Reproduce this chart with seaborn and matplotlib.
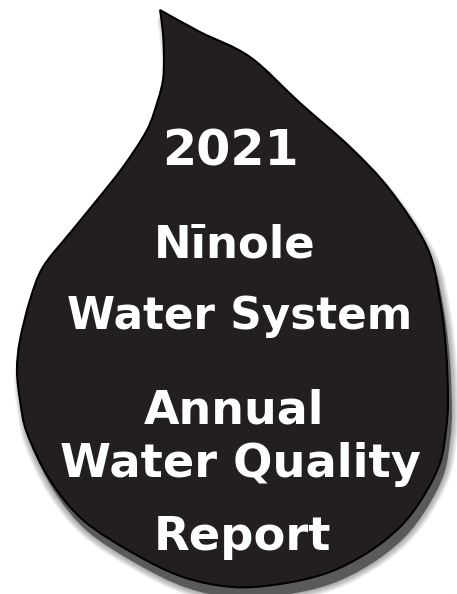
import numpy as np
import matplotlib
matplotlib.use("Agg")
import matplotlib.pyplot as plt
import seaborn as sns
from matplotlib.path import Path
from matplotlib.patches import PathPatch

# outline of the drop, clockwise from the tip (pixel coords, y down)
drop_x = [160, 200, 250, 300, 350, 390, 427, 440, 446, 448, 446, 440, 423, 400, 367, 327, 280,
          233, 183, 133, 83, 50, 27, 20, 17, 20, 30, 43, 70, 97, 123, 147, 158, 163, 164, 163, 160]
drop_y = [10, 32, 57, 103, 147, 190, 247, 300, 350, 400, 430, 463, 497, 527, 553, 573, 584,
          587, 577, 553, 520, 480, 433, 400, 370, 340, 300, 267, 233, 200, 167, 130, 100, 80, 60, 33, 10]

# text lines
lines = ["2021", "N\u012bnole", "Water System", "Annual", "Water Quality", "Report"]
line_x = [230, 235, 240, 234, 240, 243]
line_base = [165, 257, 329, 423, 477, 550]
line_width = [134, 165, 360, 182, 374, 180]
cap_height = [37, 32, 30, 33, 32, 33]

fill_col = "#231f20"
shadow_col = "#5a5a5a"


def smooth_path(xs, ys):
    # catmull-rom through the outline, sharp at the tip
    p = np.column_stack([xs, ys]).astype(float)
    p = np.vstack([p[0], p, p[-1]])
    verts = [p[1]]
    codes = [Path.MOVETO]
    for i in range(1, len(p) - 2):
        c1 = p[i] + (p[i + 1] - p[i - 1]) / 6
        c2 = p[i + 1] - (p[i + 2] - p[i]) / 6
        verts += [c1, c2, p[i + 1]]
        codes += [Path.CURVE4] * 3
    verts.append(p[1])
    codes.append(Path.CLOSEPOLY)
    return Path(verts, codes)


sns.set_theme(style="white")
fig = plt.figure(figsize=(4.57, 5.94), dpi=100)
ax = fig.add_axes([0, 0, 1, 1])
ax.set_xlim(0, 457)
ax.set_ylim(594, 0)
ax.axis("off")

drop = smooth_path(drop_x, drop_y)
shadow = smooth_path(np.array(drop_x) + 4, np.array(drop_y) + 11)

# soft shadow: stacked strokes of falling width
for lw in np.linspace(10, 1, 12):
    ax.add_patch(PathPatch(shadow, facecolor="none", edgecolor=shadow_col,
                           lw=lw, alpha=0.05, joinstyle="round"))
ax.add_patch(PathPatch(shadow, facecolor=shadow_col, edgecolor="none"))

ax.add_patch(PathPatch(drop, facecolor=fill_col, edgecolor="black", lw=1.5))

texts = []
for s, x, y in zip(lines, line_x, line_base):
    t = ax.text(x, y, s, ha="center", va="baseline", color="white",
                fontsize=32, fontweight="bold", family="DejaVu Sans")
    texts.append(t)

# size each line between its width and its cap height in the picture
fig.canvas.draw()
r = fig.canvas.get_renderer()
for t, w, h in zip(texts, line_width, cap_height):
    size_w = t.get_fontsize() * w / t.get_window_extent(r).width
    size_h = h / 0.729 * 72 / 100
    t.set_fontsize(size_w ** 0.6 * size_h ** 0.4)

fig.savefig("out.png", dpi=100)
